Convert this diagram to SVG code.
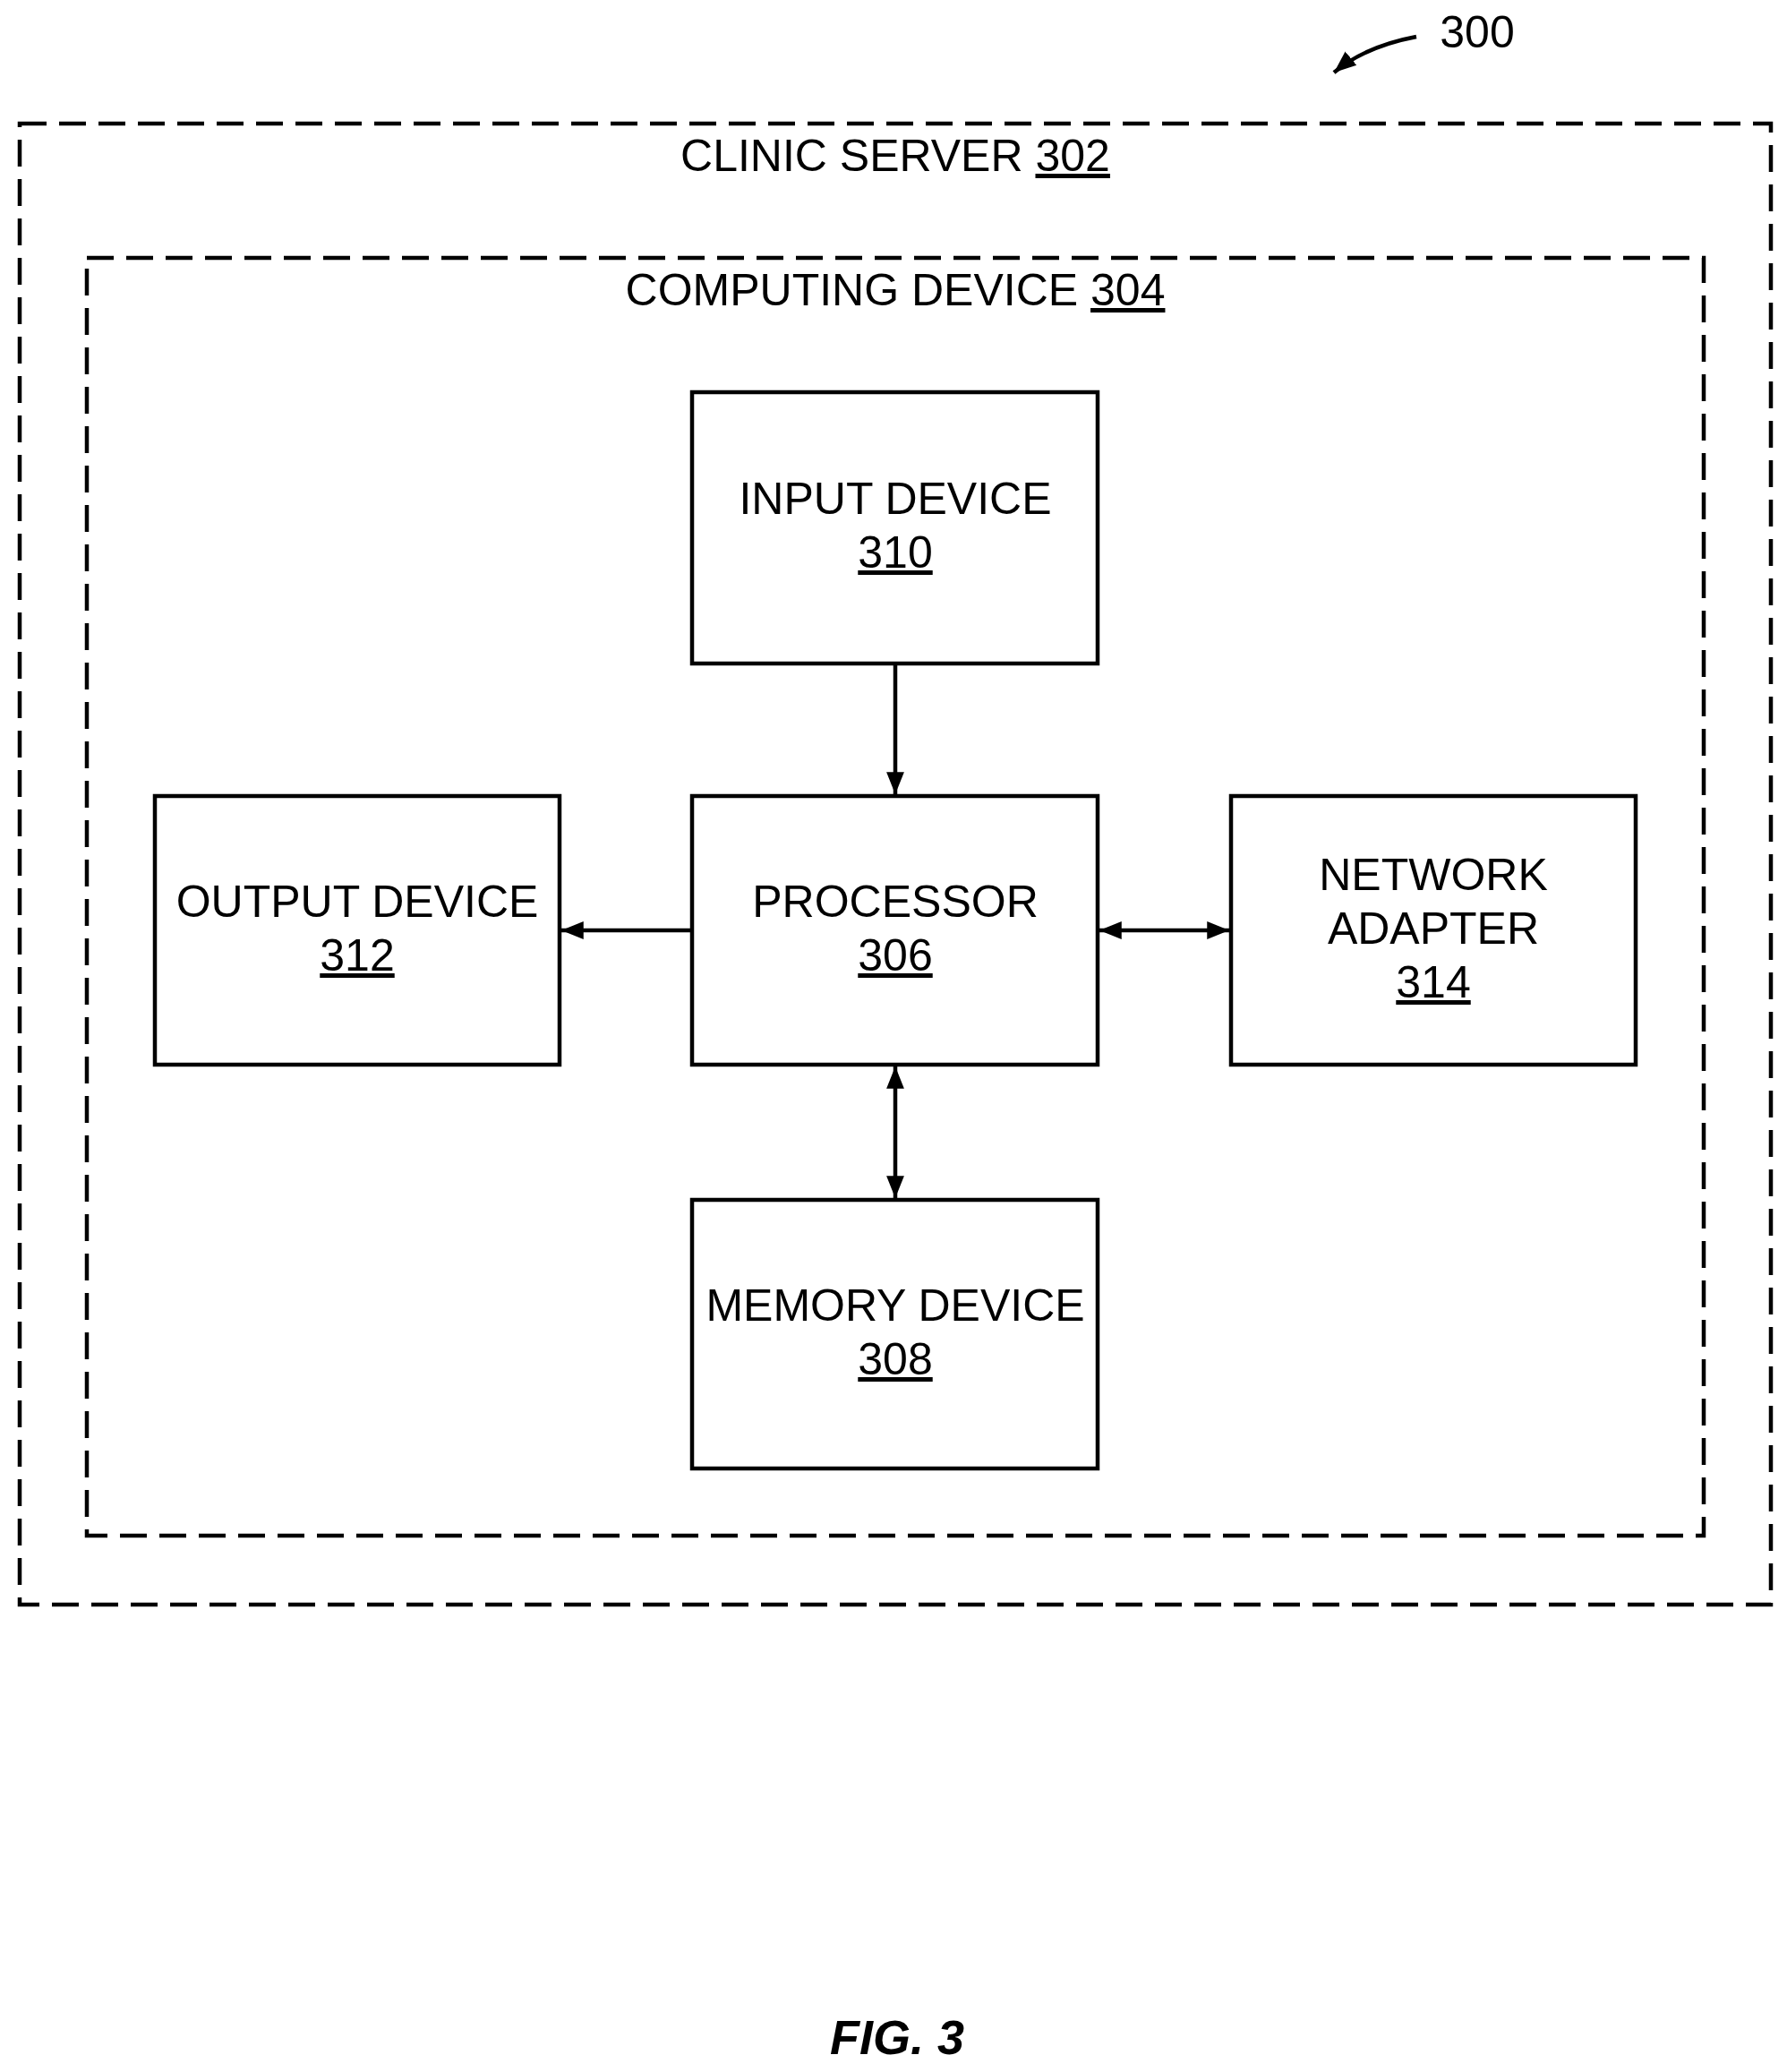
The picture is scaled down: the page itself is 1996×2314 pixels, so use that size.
<svg xmlns="http://www.w3.org/2000/svg" width="1996" height="2314" viewBox="0 0 1996 2314">
<style>
.d{fill:none;stroke:#000;stroke-width:4.5;stroke-dasharray:30 14}
.b{fill:#fff;stroke:#000;stroke-width:4.5}
.t{font-family:"Liberation Sans",Arial,sans-serif;font-size:50px;text-anchor:middle;fill:#000}
.u{text-decoration:underline}
.c{stroke:#000;stroke-width:4.5;fill:none}
</style>
<defs>
<marker id="a" viewBox="0 0 10 10" refX="10" refY="5" markerWidth="5.5" markerHeight="5.5" orient="auto-start-reverse"><path d="M0,1 L10,5 L0,9 Z" fill="#000"/></marker>
</defs>
<rect width="1996" height="2314" fill="#fff"/>
<g id="n300">
<text class="t" x="1650" y="53">300</text>
<path class="c" d="M1582,41 C1545,48 1515,60 1490,81" marker-end="url(#a)"/>
</g>
<g id="server"><rect class="d" x="22" y="138" width="1956" height="1654"/>
<text class="t" x="1000" y="191">CLINIC SERVER <tspan class="u">302</tspan></text></g>
<g id="computing"><rect class="d" x="97" y="288" width="1806" height="1427"/>
<text class="t" x="1000" y="341">COMPUTING DEVICE <tspan class="u">304</tspan></text></g>
<g id="input"><rect class="b" x="773" y="438" width="453" height="303"/>
<text class="t" x="1000" y="574">INPUT DEVICE</text><text class="t u" x="1000" y="634">310</text></g>
<g id="processor"><rect class="b" x="773" y="889" width="453" height="300"/>
<text class="t" x="1000" y="1024">PROCESSOR</text><text class="t u" x="1000" y="1084">306</text></g>
<g id="output"><rect class="b" x="173" y="889" width="452" height="300"/>
<text class="t" x="399" y="1024">OUTPUT DEVICE</text><text class="t u" x="399" y="1084">312</text></g>
<g id="network"><rect class="b" x="1375" y="889" width="452" height="300"/>
<text class="t" x="1601" y="994">NETWORK</text><text class="t" x="1601" y="1054">ADAPTER</text><text class="t u" x="1601" y="1114">314</text></g>
<g id="memory"><rect class="b" x="773" y="1340" width="453" height="300"/>
<text class="t" x="1000" y="1475">MEMORY DEVICE</text><text class="t u" x="1000" y="1535">308</text></g>
<g id="connectors">
<line class="c" x1="1000" y1="741" x2="1000" y2="887" marker-end="url(#a)"/>
<line class="c" x1="773" y1="1039" x2="627" y2="1039" marker-end="url(#a)"/>
<line class="c" x1="1228" y1="1039" x2="1373" y2="1039" marker-start="url(#a)" marker-end="url(#a)"/>
<line class="c" x1="1000" y1="1191" x2="1000" y2="1338" marker-start="url(#a)" marker-end="url(#a)"/>
</g>
<text x="1002" y="2294" style="font-family:'Liberation Sans',Arial,sans-serif;font-size:54px;font-weight:bold;font-style:italic;text-anchor:middle">FIG. 3</text>
</svg>
